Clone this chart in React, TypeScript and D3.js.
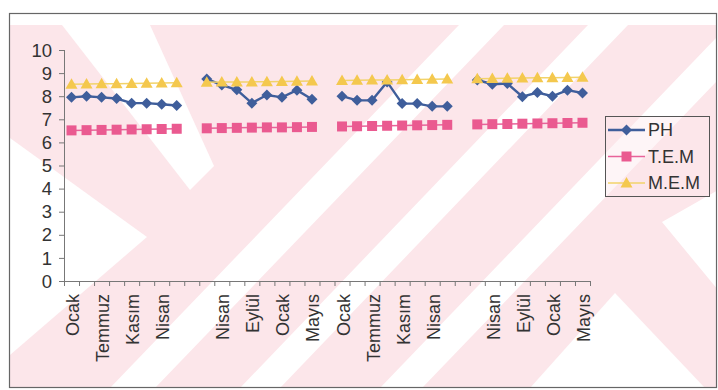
import React from "react";
import * as d3 from "d3";

// Sampling slots (four sampling runs separated by empty slots)
const categoryLabels: string[] = [
  "Ocak", "", "Temmuz", "", "Kasım", "", "Nisan", "",
  "",
  "", "Nisan", "", "Eylül", "", "Ocak", "", "Mayıs",
  "",
  "Ocak", "", "Temmuz", "", "Kasım", "", "Nisan", "",
  "",
  "", "Nisan", "", "Eylül", "", "Ocak", "", "Mayıs",
];

const phValues: (number | null)[] = [
  7.95, 8.0, 7.95, 7.9, 7.7, 7.7, 7.65, 7.6,
  null,
  8.75, 8.48, 8.28, 7.7, 8.05, 7.95, 8.26, 7.87,
  null,
  8.0, 7.82, 7.82, 8.62, 7.68, 7.68, 7.56, 7.56,
  null,
  8.7, 8.52, 8.55, 7.98, 8.16, 8.0, 8.26, 8.14,
];

const temValues: (number | null)[] = [
  6.52, 6.53, 6.54, 6.55, 6.56, 6.57, 6.58, 6.59,
  null,
  6.61, 6.62, 6.63, 6.64, 6.65, 6.65, 6.66, 6.67,
  null,
  6.69, 6.7, 6.71, 6.72, 6.73, 6.74, 6.75, 6.76,
  null,
  6.78, 6.79, 6.8, 6.81, 6.82, 6.83, 6.84, 6.85,
];

const memValues: (number | null)[] = [
  8.52, 8.53, 8.54, 8.54, 8.55, 8.56, 8.57, 8.58,
  null,
  8.6, 8.61, 8.62, 8.62, 8.63, 8.64, 8.65, 8.66,
  null,
  8.68, 8.69, 8.7, 8.7, 8.71, 8.72, 8.73, 8.74,
  null,
  8.76, 8.77, 8.78, 8.79, 8.8, 8.8, 8.81, 8.82,
];

const yTicks = [0, 1, 2, 3, 4, 5, 6, 7, 8, 9, 10];
const seriesNames = ["PH", "T.E.M", "M.E.M"];

const W = 718;
const H = 390;
const FONT = "'Liberation Sans', Arial, sans-serif";
const PINK_BG = "#fce6ea";

type Shape = "diamond" | "square" | "triangle";

const marker = (shape: Shape, cx: number, cy: number): string => {
  if (shape === "diamond") {
    const r = 5.5;
    return `M${cx},${cy - r}L${cx + r},${cy}L${cx},${cy + r}L${cx - r},${cy}Z`;
  }
  if (shape === "square") {
    const r = 5;
    return `M${cx - r},${cy - r}h${2 * r}v${2 * r}h${-2 * r}Z`;
  }
  const r = 6;
  return `M${cx},${cy - r}L${cx + r},${cy + r * 0.75}L${cx - r},${cy + r * 0.75}Z`;
};

export default function App() {
  const idx = d3.range(categoryLabels.length);
  const x = d3.scaleBand<number>().domain(idx).range([64, 590]).padding(0);
  const y = d3.scaleLinear().domain([0, 10]).range([281, 50]);
  const cx = (i: number) => (x(i) as number) + x.bandwidth() / 2;

  const series = [
    { name: seriesNames[0], values: phValues, line: "#3f5e9b", fill: "#3f5e9b", shape: "diamond" as Shape, width: 2.4 },
    { name: seriesNames[1], values: temValues, line: "#e8639a", fill: "#ea5a90", shape: "square" as Shape, width: 1.5 },
    { name: seriesNames[2], values: memValues, line: "#f2d36a", fill: "#f4c84e", shape: "triangle" as Shape, width: 1.5 },
  ];

  const lineGen = d3
    .line<number | null>()
    .defined((d) => d !== null)
    .x((_, i) => cx(i))
    .y((d) => y(d as number));

  const tickXs = d3.range(categoryLabels.length + 1).map((i) => 64 + i * x.bandwidth());

  // watermark polygons over the plot page
  const whiteShapes: [number, number][][] = [
    [[62, 25], [150, 25], [214, 166], [190, 190]],
    [[10, 138], [147, 237], [10, 355]],
    [[110, 388], [155, 388], [504, 25], [459, 25]],
    [[240, 388], [280, 388], [628, 25], [588, 25]],
    [[380, 388], [422, 388], [718, 80], [718, 36]],
    [[615, 293], [705, 388], [530, 388]],
    [[662, 222], [718, 190], [718, 290]],
  ];

  return (
    <svg width={W} height={H} style={{ position: "absolute", left: 0, top: 0, background: "#fff" }}>
      <defs>
        <clipPath id="page">
          <rect x={10} y={25} width={706} height={362} />
        </clipPath>
      </defs>
      <g clipPath="url(#page)">
        <rect x={10} y={25} width={706} height={362} fill={PINK_BG} />
        {whiteShapes.map((p, i) => (
          <polygon key={i} points={p.map((q) => q.join(",")).join(" ")} fill="#ffffff" />
        ))}
      </g>
      <rect x={9.5} y={13.5} width={707} height={374} fill="none" stroke="#666" strokeWidth={1.2} />

      {/* y axis */}
      <line x1={64.5} x2={64.5} y1={y(10)} y2={y(0)} stroke="#777" strokeWidth={1} />
      {yTicks.map((t) => (
        <g key={t}>
          <line x1={59} x2={64.5} y1={y(t) + 0.5} y2={y(t) + 0.5} stroke="#777" />
          <text x={52} y={y(t)} dy="0.36em" textAnchor="end" fontFamily={FONT} fontSize={18.5} fill="#333">
            {t}
          </text>
        </g>
      ))}

      {/* x axis */}
      <line x1={64} x2={590} y1={y(0) + 0.5} y2={y(0) + 0.5} stroke="#777" />
      {tickXs.map((t, i) => (
        <line key={i} x1={t + 0.5} x2={t + 0.5} y1={y(0)} y2={y(0) + 5} stroke="#777" />
      ))}
      {categoryLabels.map((lab, i) =>
        lab ? (
          <text
            key={i}
            transform={`translate(${cx(i) + 1},294) rotate(-90)`}
            textAnchor="end"
            dy="0.36em"
            fontFamily={FONT}
            fontSize={18}
            fill="#333"
          >
            {lab}
          </text>
        ) : null
      )}

      {/* series */}
      {series.map((s) => (
        <g key={s.name}>
          <path d={lineGen(s.values) || ""} fill="none" stroke={s.line} strokeWidth={s.width} />
          {s.values.map((v, i) =>
            v === null ? null : <path key={i} d={marker(s.shape, cx(i), y(v))} fill={s.fill} />
          )}
        </g>
      ))}

      {/* legend */}
      <rect x={605.5} y={116.5} width={104} height={80} fill="#fce6ea" fillOpacity={0.4} stroke="#555" />
      {series.map((s, i) => {
        const ly = 130 + i * 26.5;
        return (
          <g key={s.name}>
            <line x1={608} x2={645} y1={ly} y2={ly} stroke={s.line} strokeWidth={s.width} />
            <path d={marker(s.shape, 626.5, ly)} fill={s.fill} />
            <text x={648} y={ly} dy="0.36em" fontFamily={FONT} fontSize={18} fill="#333">
              {s.name}
            </text>
          </g>
        );
      })}
    </svg>
  );
}
